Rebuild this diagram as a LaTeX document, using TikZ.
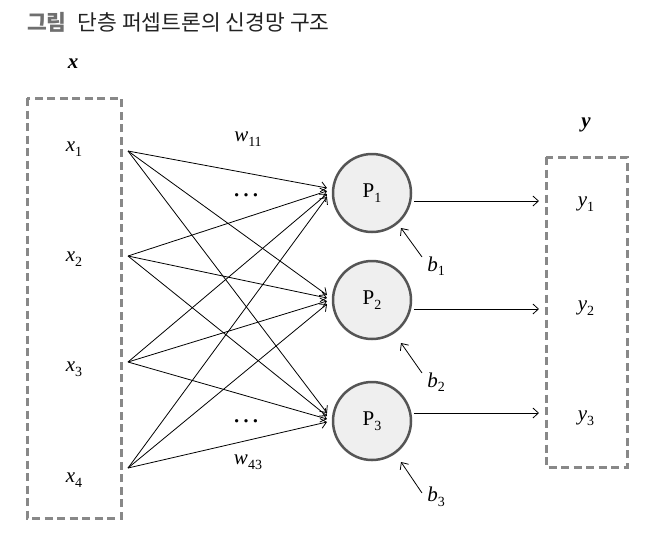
\documentclass[tikz,border=0pt]{standalone}
\usepackage{fontspec}
\setmainfont{Liberation Serif}
\newfontfamily\krfont{Noto Sans CJK KR}
\usetikzlibrary{arrows.meta}
\definecolor{boxgray}{HTML}{888888}
\definecolor{circfill}{HTML}{EFEFEF}
\definecolor{circdraw}{HTML}{555555}
\definecolor{titlegray}{HTML}{6F6F6F}
\definecolor{titledark}{HTML}{222222}
\newcommand\sublab[2]{\textit{#1}\raisebox{-4.5pt}{\fontsize{14}{14}\selectfont #2}}
\newcommand\psub[1]{P\raisebox{-5pt}{\fontsize{14}{14}\selectfont #1}}
\tikzset{
  dashbox/.style={draw=boxgray, line width=3pt, dash pattern=on 8pt off 4.5pt},
  neuron/.style={circle, draw=circdraw, fill=circfill, line width=2.5pt, minimum size=78pt, inner sep=0pt, font=\fontsize{21}{21}\selectfont},
  lab/.style={inner sep=0pt, font=\fontsize{21}{21}\selectfont},
  conn/.style={draw=black, line width=0.8pt, -{Straight Barb[length=5.5pt,width=10pt,line width=0.8pt]}},
}
\begin{document}
\begin{tikzpicture}[x=1pt,y=-1pt]
\useasboundingbox (0,0) rectangle (666,558);
% title
\node[anchor=west, inner sep=0pt, font=\krfont\fontsize{21.5}{21.5}\selectfont] (title) at (27,22)
  {\textcolor{titlegray}{\bfseries 그림}\hspace{11pt}\textcolor{titledark}{단층 퍼셉트론의 신경망 구조}};
% headers
\node[lab] (xh) at (73,64) {\textbf{\textit{x}}};
\node[lab] (yh) at (586,125) {\textbf{\textit{y}}};
% boxes
\draw[dashbox] (27,98) rectangle (121,518);
\draw[dashbox] (546,157) rectangle (627,467);
% inputs
\node[lab] (x1) at (74,149) {\sublab{x}{1}};
\node[lab] (x2) at (74,259) {\sublab{x}{2}};
\node[lab] (x3) at (74,369) {\sublab{x}{3}};
\node[lab] (x4) at (74,480) {\sublab{x}{4}};
\coordinate (s1) at (128,151);
\coordinate (s2) at (128,256);
\coordinate (s3) at (128,362);
\coordinate (s4) at (128,468);
% neurons
\node[neuron] (P1) at (372,193) {\psub{1}};
\node[neuron] (P2) at (372,300) {\psub{2}};
\node[neuron] (P3) at (372,421) {\psub{3}};
% input arrow ends
\foreach \j/\cy in {1/193,2/300,3/418}{
  \foreach \i in {1,...,4}{
    \coordinate (e\j\i) at (327,{\cy-5+3*(\i-1)});
  }
}
\foreach \i in {1,...,4}{
  \foreach \j in {1,2,3}{
    \draw[conn] (s\i) -- (e\j\i);
  }
}
% weight labels
\node[lab] (w11) at (248,139) {\sublab{w}{11}};
\node[lab, font=\fontsize{28}{28}\selectfont] (d1) at (246,195) {…};
\node[lab, font=\fontsize{28}{28}\selectfont] (d2) at (246,421) {…};
\node[lab] (w43) at (248,462) {\sublab{w}{43}};
% outputs
\node[lab] (y1) at (586,204) {\sublab{y}{1}};
\node[lab] (y2) at (586,308) {\sublab{y}{2}};
\node[lab] (y3) at (586,418) {\sublab{y}{3}};
\coordinate (o1s) at (414,201);
\coordinate (o2s) at (414,309);
\coordinate (o3s) at (414,413);
\coordinate (o1e) at (539,201);
\coordinate (o2e) at (539,309);
\coordinate (o3e) at (539,413);
\draw[conn] (o1s) -- (o1e);
\draw[conn] (o2s) -- (o2e);
\draw[conn] (o3s) -- (o3e);
% biases
\node[lab] (b1) at (436,266) {\sublab{b}{1}};
\node[lab] (b2) at (436,382) {\sublab{b}{2}};
\node[lab] (b3) at (436,497) {\sublab{b}{3}};
\coordinate (b1t) at (422,257);
\coordinate (b2t) at (422,373);
\coordinate (b3t) at (422,493);
\coordinate (b1h) at (401,228);
\coordinate (b2h) at (401,343);
\coordinate (b3h) at (401,462);
\draw[conn] (b1t) -- (b1h);
\draw[conn] (b2t) -- (b2h);
\draw[conn] (b3t) -- (b3h);
\end{tikzpicture}
\end{document}
